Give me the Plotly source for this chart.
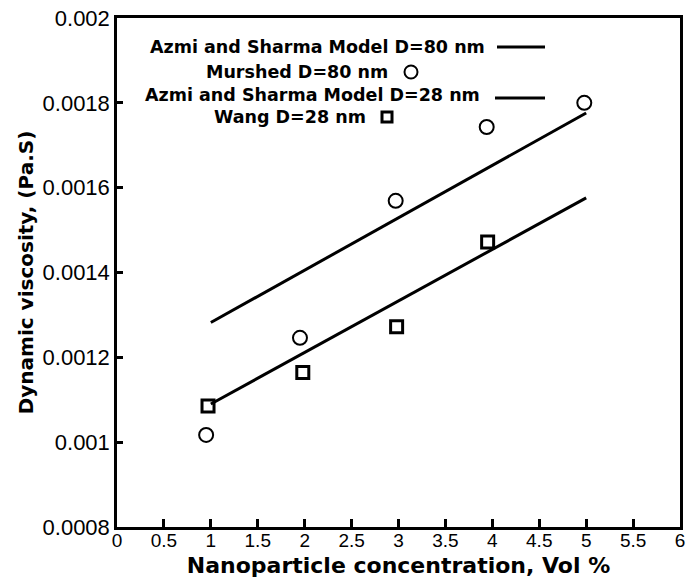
import plotly.graph_objects as go

# ---- data ----
murshed_x = [0.95, 1.95, 2.97, 3.94, 4.98]
murshed_y = [0.001017, 0.001246, 0.001569, 0.001743, 0.00180]
wang_x = [0.97, 1.98, 2.98, 3.95]
wang_y = [0.001085, 0.001164, 0.001272, 0.001472]
model80_x = [1.0, 5.0]
model80_y = [0.001282, 0.001776]
model28_x = [1.0, 5.0]
model28_y = [0.001090, 0.001576]

x_tickvals = [0, 0.5, 1, 1.5, 2, 2.5, 3, 3.5, 4, 4.5, 5, 5.5, 6]
x_ticktext = ["0", "0.5", "1", "1.5", "2", "2.5", "3", "3.5", "4", "4.5", "5", "5.5", "6"]
y_tickvals = [0.0008, 0.001, 0.0012, 0.0014, 0.0016, 0.0018, 0.002]
y_ticktext = ["0.0008", "0.001", "0.0012", "0.0014", "0.0016", "0.0018", "0.002"]

legend_names = ["Azmi and Sharma Model D=80 nm", "Murshed D=80 nm",
                "Azmi and Sharma Model D=28 nm", "Wang D=28 nm"]

FONT = "Liberation Sans, Arial, sans-serif"
BOLD = "DejaVu Sans, Liberation Sans, Arial, sans-serif"

fig = go.Figure()
fig.add_trace(go.Scatter(x=model80_x, y=model80_y, mode="lines",
                         line=dict(color="black", width=3), name=legend_names[0],
                         showlegend=False))
fig.add_trace(go.Scatter(x=murshed_x, y=murshed_y, mode="markers",
                         marker=dict(symbol="circle-open", size=14, color="black",
                                     line=dict(width=2, color="black")),
                         name=legend_names[1], showlegend=False))
fig.add_trace(go.Scatter(x=model28_x, y=model28_y, mode="lines",
                         line=dict(color="black", width=3), name=legend_names[2],
                         showlegend=False))
fig.add_trace(go.Scatter(x=wang_x, y=wang_y, mode="markers",
                         marker=dict(symbol="square-open", size=12, color="black",
                                     line=dict(width=3, color="black")),
                         name=legend_names[3], showlegend=False))
# empty trace that only brings the tick-label axis (x2) to life
fig.add_trace(go.Scatter(x=[], y=[], xaxis="x2", yaxis="y", mode="markers",
                         showlegend=False, hoverinfo="skip"))

FIG_W, FIG_H = 696, 578
# plot box in pixels
L, R, T, B = 117, 680, 18, 527
W, H = R - L, B - T
def px(x):
    return (x - L) / W
def py(y):
    return (B - y) / H

# ---- custom legend (text centred, key to the right, as in the reference) ----
leg_text = [(317, 47), (297, 72), (312, 95), (290, 117)]
for (cx, cy), name in zip(leg_text, legend_names):
    fig.add_annotation(x=px(cx), y=py(cy), xref="paper", yref="paper",
                       text=name, showarrow=False, xanchor="center", yanchor="middle",
                       font=dict(family=BOLD, size=17.5, color="black", weight="bold"))
fig.add_shape(type="line", xref="paper", yref="paper", x0=px(497), x1=px(545),
              y0=py(47), y1=py(47), line=dict(color="black", width=3))
fig.add_shape(type="line", xref="paper", yref="paper", x0=px(495), x1=px(545),
              y0=py(98), y1=py(98), line=dict(color="black", width=3))
fig.add_shape(type="circle", xref="paper", yref="paper", x0=px(404.5), x1=px(417.5),
              y0=py(78.5), y1=py(65.5), line=dict(color="black", width=2))
fig.add_shape(type="rect", xref="paper", yref="paper", x0=px(382), x1=px(392),
              y0=py(122), y1=py(112), line=dict(color="black", width=3))

axis_common = dict(showgrid=False, zeroline=False, showline=True, linecolor="black",
                   linewidth=2.5, mirror=True, ticks="inside", tickcolor="black",
                   tickwidth=2.5, automargin=False, ticklabeloverflow="allow")

# main x axis: frame, inward ticks and title
fig.update_layout(xaxis=dict(range=[0, 6], tickmode="array", tickvals=x_tickvals,
                             ticktext=x_ticktext, ticklen=8, showticklabels=False,
                             title=dict(text="Nanoparticle concentration, Vol %", standoff=30,
                                        font=dict(family=BOLD, size=22, color="black",
                                                  weight="bold")),
                             **axis_common))
# tick labels on an overlaid axis (labels hug the frame as in the reference)
fig.update_layout(xaxis2=dict(overlaying="x", anchor="free", position=0, side="bottom",
                              range=[0, 6], tickmode="array", tickvals=x_tickvals,
                              ticktext=x_ticktext, ticks="", showline=False, showgrid=False,
                              zeroline=False, automargin=False, ticklabeloverflow="allow",
                              tickfont=dict(family=FONT, size=19, color="black")))
fig.update_layout(yaxis=dict(range=[0.0008, 0.002], tickmode="array", tickvals=y_tickvals,
                             ticktext=y_ticktext, ticklen=6,
                             tickfont=dict(family=FONT, size=22, color="black"),
                             title=dict(text="Dynamic viscosity, (Pa.S)", standoff=4,
                                        font=dict(family=BOLD, size=20, color="black",
                                                  weight="bold")),
                             **axis_common))

fig.update_layout(width=FIG_W, height=FIG_H, plot_bgcolor="white", paper_bgcolor="white",
                  margin=dict(l=L, r=FIG_W - R, t=T, b=FIG_H - B),
                  showlegend=False)

fig.write_html("out.html", config={"displayModeBar": False},
               post_script="document.body.style.margin='0px';")
